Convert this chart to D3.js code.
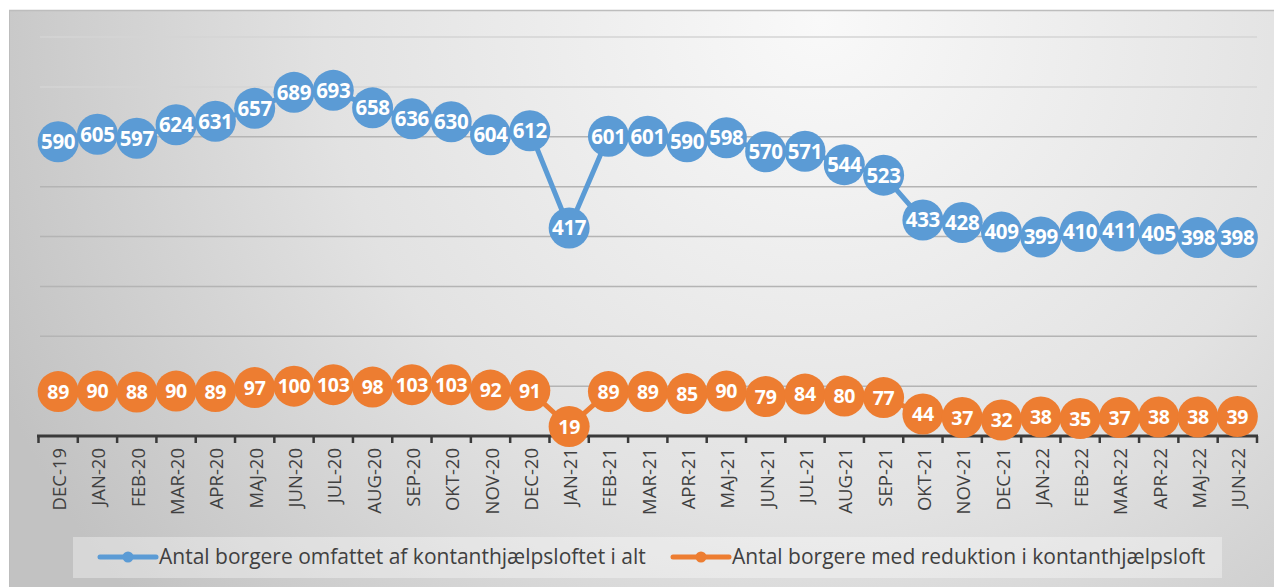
<!DOCTYPE html>
<html>
<head>
<meta charset="utf-8">
<script src="https://cdn.jsdelivr.net/npm/d3@7"></script>
<style>
  body { margin: 0; background: #fff; }
  svg { display: block; font-family: "Open Sans", "Noto Sans", sans-serif; }
</style>
</head>
<body>
<script>
const months = ["DEC-19","JAN-20","FEB-20","MAR-20","APR-20","MAJ-20","JUN-20","JUL-20","AUG-20","SEP-20","OKT-20","NOV-20","DEC-20",
  "JAN-21","FEB-21","MAR-21","APR-21","MAJ-21","JUN-21","JUL-21","AUG-21","SEP-21","OKT-21","NOV-21","DEC-21",
  "JAN-22","FEB-22","MAR-22","APR-22","MAJ-22","JUN-22"];
const totalVals = [590,605,597,624,631,657,689,693,658,636,630,604,612,417,601,601,590,598,570,571,544,523,433,428,409,399,410,411,405,398,398];
const reducedVals = [89,90,88,90,89,97,100,103,98,103,103,92,91,19,89,89,85,90,79,84,80,77,44,37,32,38,35,37,38,38,39];
const seriesNames = ["Antal borgere omfattet af kontanthjælpsloftet i alt", "Antal borgere med reduktion i kontanthjælpsloft"];
const seriesColors = ["#5b9bd5", "#ed7d31"];
const gridTicks = [100,200,300,400,500,600,700,800];

const width = 1274, height = 587;
const svg = d3.select("body").append("svg").attr("width", width).attr("height", height);

const defs = svg.append("defs");
const grad = defs.append("radialGradient").attr("id", "bg")
    .attr("gradientUnits", "userSpaceOnUse")
    .attr("cx", 820).attr("cy", 20).attr("r", 900);
grad.append("stop").attr("offset", "0%").attr("stop-color", "#f9f9f9");
grad.append("stop").attr("offset", "55%").attr("stop-color", "#e2e2e2");
grad.append("stop").attr("offset", "100%").attr("stop-color", "#c2c2c2");

svg.append("rect").attr("x", 9).attr("y", 10).attr("width", width - 9).attr("height", height - 10)
    .attr("fill", "url(#bg)");
svg.append("line").attr("x1", 9).attr("x2", width).attr("y1", 10.5).attr("y2", 10.5)
    .attr("stroke", "#bdbdbd").attr("stroke-width", 1.5);
svg.append("line").attr("x1", 9.5).attr("x2", 9.5).attr("y1", 10).attr("y2", height)
    .attr("stroke", "#bdbdbd").attr("stroke-width", 1);

const x = d3.scaleBand().domain(months).range([38.5, 1257]);
const y = d3.scaleLinear().domain([0, 800]).range([436, 37]);
const cx = d => x(d) + x.bandwidth() / 2;

// gridlines
svg.append("g").selectAll("line").data(gridTicks).enter().append("line")
    .attr("x1", 40).attr("x2", 1257)
    .attr("y1", d => y(d)).attr("y2", d => y(d))
    .attr("stroke", d => d >= 700 ? "#d4d4d4" : "#b4b4b4")
    .attr("stroke-width", 1.5);

// x axis
const xAxis = svg.append("g").attr("transform", `translate(0,${y(0)})`);
xAxis.append("line").attr("x1", 37).attr("x2", 1258).attr("y1", 0).attr("y2", 0)
    .attr("stroke", "#3a3a3a").attr("stroke-width", 3);
xAxis.selectAll("line.tick").data(d3.range(months.length + 1)).enter().append("line")
    .attr("class", "tick")
    .attr("x1", i => x.range()[0] + i * x.step()).attr("x2", i => x.range()[0] + i * x.step())
    .attr("y1", 0).attr("y2", 7)
    .attr("stroke", "#3a3a3a").attr("stroke-width", 2.5);
xAxis.selectAll("text").data(months).enter().append("text")
    .attr("transform", d => `translate(${cx(d) + 8},12) rotate(-90)`)
    .attr("text-anchor", "end")
    .attr("font-size", 18.5)
    .attr("fill", "#404040")
    .text(d => d);

// series
const series = [totalVals, reducedVals];
series.forEach((vals, s) => {
  const pts = vals.map((v, i) => ({ m: months[i], v }));
  const g = svg.append("g");
  g.append("path").datum(pts)
    .attr("d", d3.line().x(d => cx(d.m)).y(d => y(d.v)))
    .attr("fill", "none").attr("stroke", seriesColors[s]).attr("stroke-width", 5)
    .attr("stroke-linejoin", "round");
  g.selectAll("circle").data(pts).enter().append("circle")
    .attr("cx", d => cx(d.m)).attr("cy", d => y(d.v)).attr("r", 20.5)
    .attr("fill", seriesColors[s]);
  g.selectAll("text").data(pts).enter().append("text")
    .attr("x", d => cx(d.m)).attr("y", d => y(d.v))
    .attr("dy", "0.36em")
    .attr("text-anchor", "middle")
    .attr("font-size", s === 0 ? 20.5 : 19.5)
    .attr("font-weight", "bold")
    .attr("letter-spacing", -0.3)
    .attr("fill", "#fff")
    .text(d => d.v);
});

// legend
const legend = svg.append("g");
legend.append("rect").attr("x", 73).attr("y", 537).attr("width", 1149).attr("height", 41)
    .attr("fill", "#fff").attr("fill-opacity", 0.35);
const legendX = [100, 673];
seriesNames.forEach((name, s) => {
  const lg = legend.append("g").attr("transform", `translate(${legendX[s]},557)`);
  lg.append("line").attr("x1", 0).attr("x2", 56).attr("y1", 0).attr("y2", 0)
    .attr("stroke", seriesColors[s]).attr("stroke-width", 5).attr("stroke-linecap", "round");
  lg.append("circle").attr("cx", 28).attr("cy", 0).attr("r", 5.5).attr("fill", seriesColors[s]);
  lg.append("text").attr("x", 59).attr("dy", "0.35em")
    .attr("font-size", 21).attr("fill", "#404040")
    .text(name);
});
</script>
</body>
</html>
